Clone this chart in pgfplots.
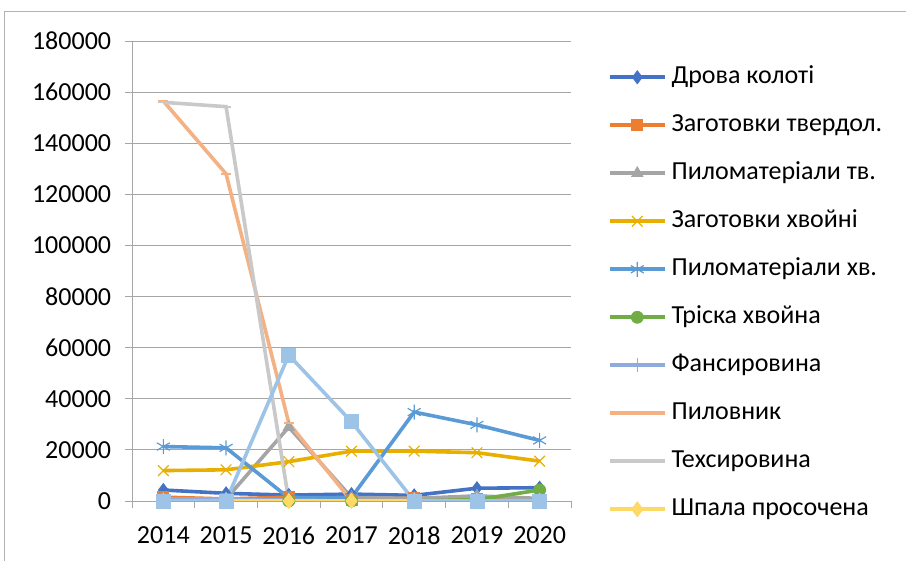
\documentclass[border=0pt]{standalone}
\usepackage{pgfplots}
\pgfplotsset{compat=1.18}
\usepackage{fontspec}
\setmainfont{Carlito}
\definecolor{c1}{HTML}{4472C4}
\definecolor{c2}{HTML}{ED7D31}
\definecolor{c3}{HTML}{A5A5A5}
\definecolor{c4}{HTML}{E8AE00}
\definecolor{c5}{HTML}{5B9BD5}
\definecolor{c6}{HTML}{70AD47}
\definecolor{c7}{HTML}{8FAADC}
\definecolor{c8}{HTML}{F4B183}
\definecolor{c9}{HTML}{C9C9C9}
\definecolor{c10}{HTML}{FFD966}
\definecolor{c11}{HTML}{9DC3E6}
\definecolor{gridc}{HTML}{A6A6A6}
\begin{document}
\fontsize{26}{31}\selectfont
\begin{tikzpicture}
\useasboundingbox (-132pt,-60pt) rectangle (774pt,501pt);
\draw[line width=1pt, color=black!30] (-127pt,-60pt) -- (-127pt,489pt) -- (774pt,489pt);
\begin{axis}[
  at={(0pt,0pt)}, anchor=south west, scale only axis,
  width=439pt, height=460pt,
  xmin=-0.5, xmax=6.5, ymin=0, ymax=180000,
  axis lines*=left,
  axis line style={color=gridc, line width=0.9pt},
  xtick={0,...,6}, xticklabels={2014,2015,2016,2017,2018,2019,2020},
  minor xtick={-0.5,0.5,...,6.5},
  major x tick style={draw=none},
  minor x tick style={color=gridc, line width=0.9pt},
  scaled y ticks=false,
  ytick={0,20000,...,180000},
  yticklabels={0,20000,40000,60000,80000,100000,120000,140000,160000,180000},
  y tick style={color=gridc, line width=0.9pt},
  tick align=outside, major tick length=7pt, minor tick length=7pt,
  ymajorgrids, grid style={color=gridc, line width=0.9pt},
  tick label style={font=\fontsize{26}{31}\selectfont, text=black},
  xticklabel style={yshift=-10pt},
  yticklabel style={xshift=-5pt},
  legend style={at={(axis description cs:1.077,0.952)}, anchor=north west,
    draw=none, fill=none, font=\fontsize{26}{31}\selectfont,
    row sep=24pt, nodes={inner sep=0pt, text height=18pt, text depth=6pt}},
  legend cell align=left,
  legend image code/.code={\draw[mark repeat=2,mark phase=2] plot coordinates {(0pt,0pt) (27.5pt,0pt) (55pt,0pt)}; \path (60pt,0pt);},
  every axis plot/.append style={line width=3.6pt},
]
\addplot[c1, mark=diamond*, mark size=6.5pt, mark options={fill=c1, line width=0.8pt}] coordinates {(0,4300) (1,3000) (2,2300) (3,2700) (4,2200) (5,5000) (6,5200)};
\addlegendentry{Дрова колоті}
\addplot[c2, mark=square*, mark size=5.5pt, mark options={fill=c2, line width=0.8pt}] coordinates {(0,1500) (1,800) (2,1500) (3,500) (4,1200) (5,800) (6,500)};
\addlegendentry{Заготовки твердол.}
\addplot[c3, mark=triangle*, mark size=6.5pt, mark options={fill=c3, line width=0.8pt}] coordinates {(0,500) (1,800) (2,28900) (3,1400) (4,1000) (5,2000) (6,1000)};
\addlegendentry{Пиломатеріали тв.}
\addplot[c4, mark=x, mark size=7.5pt, mark options={line width=1.2pt}] coordinates {(0,11900) (1,12200) (2,15400) (3,19500) (4,19500) (5,18900) (6,15600)};
\addlegendentry{Заготовки хвойні}
\addplot[c5, mark=asterisk, mark size=7.5pt, mark options={line width=1.2pt}] coordinates {(0,21300) (1,20800) (2,1200) (3,1400) (4,34800) (5,29800) (6,23700)};
\addlegendentry{Пиломатеріали хв.}
\addplot[c6, mark=*, mark size=6pt, mark options={fill=c6, line width=0.8pt}] coordinates {(0,0) (1,0) (2,0) (3,0) (4,0) (5,500) (6,4300)};
\addlegendentry{Тріска хвойна}
\addplot[c7, mark=|, mark size=7pt, mark options={line width=1.2pt}] coordinates {(0,800) (1,800) (2,300) (3,0) (4,0) (5,0) (6,0)};
\addlegendentry{Фансировина}
\addplot[c8, mark=-, mark size=5pt, mark options={line width=1.8pt}] coordinates {(0,156500) (1,128000) (2,30500) (3,0) (4,0) (5,0) (6,0)};
\addlegendentry{Пиловник}
\addplot[c9, mark=-, mark size=5pt, mark options={line width=1.8pt}] coordinates {(0,156000) (1,154300) (2,0) (3,0) (4,0) (5,0) (6,0)};
\addlegendentry{Техсировина}
\addplot[c10, mark=diamond*, mark size=7.5pt, mark options={fill=c10, line width=0.8pt}] coordinates {(0,0) (1,0) (2,0) (3,0) (4,0) (5,0) (6,0)};
\addlegendentry{Шпала просочена}
\addplot[c11, forget plot, mark=square*, mark size=7pt, mark options={fill=c11, line width=0.8pt}] coordinates {(0,0) (1,0) (2,57100) (3,31000) (4,0) (5,0) (6,0)};
\end{axis}
\end{tikzpicture}
\end{document}
